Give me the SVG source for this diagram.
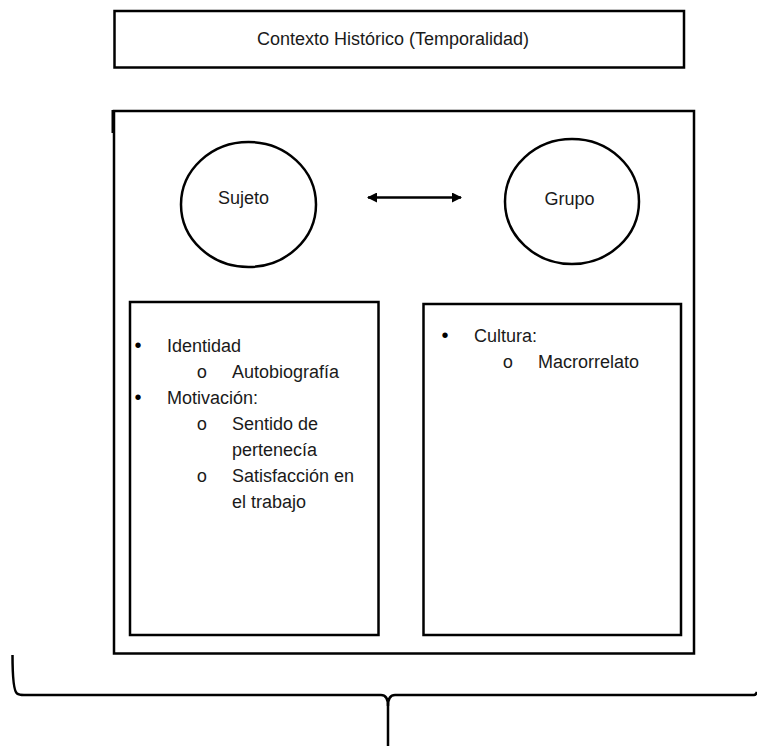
<svg xmlns="http://www.w3.org/2000/svg" width="757" height="746" viewBox="0 0 757 746">
  <style>
    .box { fill: #ffffff; stroke: #000000; stroke-width: 2.5; }
    .node { fill: #ffffff; stroke: #000000; stroke-width: 2.5; }
    .txt { font-family: "Liberation Sans", Arial, sans-serif; font-size: 18px; fill: #1a1a1a; }
    .mid { text-anchor: middle; }
    .sub { font-family: "Liberation Mono", "Courier New", monospace; font-size: 18px; fill: #1a1a1a; text-anchor: middle; }
    .bul { font-family: "Liberation Sans", Arial, sans-serif; font-size: 20px; fill: #000000; text-anchor: middle; }
    .link { fill: none; stroke: #000000; stroke-width: 2.5; }
    .brace { fill: none; stroke: #000000; stroke-width: 2.5; stroke-linejoin: round; }
  </style>
  <defs>
    <marker id="arrowEnd" viewBox="0 0 10 10" refX="9" refY="5" markerWidth="4" markerHeight="4" orient="auto">
      <path d="M0 0 L10 5 L0 10 Z" fill="#000000"/>
    </marker>
    <marker id="arrowStart" viewBox="0 0 10 10" refX="1" refY="5" markerWidth="4" markerHeight="4" orient="auto">
      <path d="M10 0 L0 5 L10 10 Z" fill="#000000"/>
    </marker>
  </defs>

  <rect width="757" height="746" fill="#ffffff"/>

  <!-- Historical context banner -->
  <g id="contexto">
    <rect class="box" x="114.5" y="11" width="569.5" height="56.5"/>
    <text class="txt mid" x="393" y="44.5">Contexto Histórico (Temporalidad)</text>
  </g>

  <!-- Main frame -->
  <g id="marco">
    <rect class="box" x="114" y="111" width="580" height="542.5"/>
    <rect x="111.5" y="110" width="3" height="23" fill="#000000"/>
  </g>

  <!-- Subject -->
  <g id="sujeto">
    <ellipse class="node" cx="248.5" cy="204.5" rx="67.5" ry="62.5"/>
    <text class="txt mid" x="243.5" y="203.5">Sujeto</text>
  </g>

  <!-- Group -->
  <g id="grupo">
    <ellipse class="node" cx="572" cy="201.5" rx="67" ry="62.5"/>
    <text class="txt mid" x="569.5" y="204.5">Grupo</text>
  </g>

  <!-- Subject attributes -->
  <g id="atributos-sujeto">
    <rect class="box" x="130" y="302" width="248.5" height="333"/>
    <text class="bul" x="138" y="352">•</text>
    <text class="txt" x="167" y="351.5">Identidad</text>
    <text class="sub" x="202" y="377.5">o</text>
    <text class="txt" x="232" y="377.5">Autobiografía</text>
    <text class="bul" x="138" y="404">•</text>
    <text class="txt" x="167" y="403.5">Motivación:</text>
    <text class="sub" x="202" y="429.5">o</text>
    <text class="txt" x="232" y="429.5">Sentido de</text>
    <text class="txt" x="232" y="455.5">pertenecía</text>
    <text class="sub" x="202" y="481.5">o</text>
    <text class="txt" x="232" y="481.5">Satisfacción en</text>
    <text class="txt" x="232" y="507.5">el trabajo</text>
  </g>

  <!-- Group attributes -->
  <g id="atributos-grupo">
    <rect class="box" x="423.5" y="304" width="257.5" height="331"/>
    <text class="bul" x="445" y="342">•</text>
    <text class="txt" x="474" y="341.5">Cultura:</text>
    <text class="sub" x="508" y="367.5">o</text>
    <text class="txt" x="538" y="367.5">Macrorrelato</text>
  </g>

  <!-- Connectors -->
  <g id="conectores">
    <line class="link" x1="368" y1="197.5" x2="461" y2="197.5" marker-start="url(#arrowStart)" marker-end="url(#arrowEnd)"/>
    <path class="brace" d="M12.5 655 Q12.5 690 17 693.5 Q19 695 24 695 L381 695 Q388 695 388 706 L388 746"/>
    <path class="brace" d="M388 706 Q388 695 395 695 L754 695 Q756 695 757 692"/>
  </g>
</svg>
